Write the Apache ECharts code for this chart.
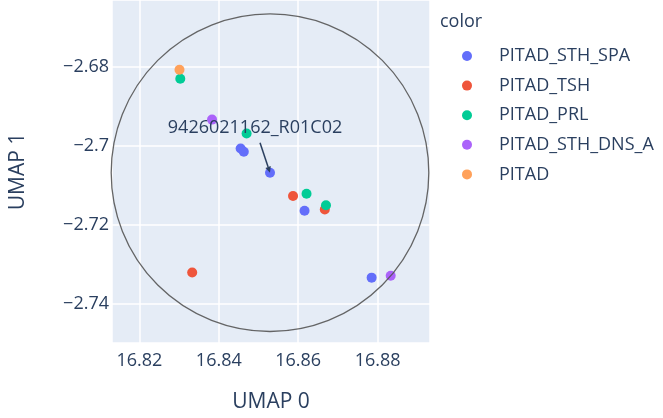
<!DOCTYPE html>
<html>
<head>
<meta charset="utf-8">
<script src="https://cdn.jsdelivr.net/npm/echarts@6/dist/echarts.min.js"></script>
<style>
html,body{margin:0;padding:0;background:#fff;}
#c{width:663px;height:418px;}
</style>
</head>
<body>
<div id="c"></div>
<script>
// ---- data ----
const categories = ['PITAD_STH_SPA', 'PITAD_TSH', 'PITAD_PRL', 'PITAD_STH_DNS_A', 'PITAD'];
const colors = ['#636efa', '#EF553B', '#00cc96', '#ab63fa', '#FFA15A'];
const spaX = [16.8455, 16.8463, 16.8529, 16.8616, 16.8785];
const spaY = [-2.7007, -2.7015, -2.7068, -2.7164, -2.7333];
const tshX = [16.8587, 16.8667, 16.8333];
const tshY = [-2.7127, -2.7161, -2.7320];
const prlX = [16.8303, 16.8470, 16.8621, 16.8670];
const prlY = [-2.6831, -2.6969, -2.7121, -2.7150];
const dnsX = [16.8383, 16.8833];
const dnsY = [-2.6934, -2.7328];
const pitadX = [16.8301];
const pitadY = [-2.6808];
const xTicks = [16.82, 16.84, 16.86, 16.88];
const yTicks = [-2.74, -2.72, -2.70, -2.68];
const annotLabel = '9426021162_R01C02';
const annotPoint = [16.8529, -2.7068];
const circleRadius = 0.04;

const xs = [spaX, tshX, prlX, dnsX, pitadX];
const ys = [spaY, tshY, prlY, dnsY, pitadY];

const FONT = 'Open Sans';
const TXT = '#2a3f5f';

const scatterSeries = categories.map((name, i) => ({
  name: name,
  type: 'scatter',
  symbolSize: 10,
  itemStyle: { color: colors[i], opacity: 1 },
  emphasis: { disabled: true },
  data: xs[i].map((x, k) => [x, ys[i][k]]),
  z: 2
}));

const annotSeries = {
  type: 'custom',
  silent: true,
  z: 10,
  data: [[annotPoint[0], annotPoint[1]]],
  renderItem: function (params, api) {
    const c = api.coord([api.value(0), api.value(1)]);
    const e = api.coord([api.value(0) + circleRadius, api.value(1)]);
    const r = Math.abs(e[0] - c[0]);
    const tx = c[0] - 15, ty = c[1] - 45;
    const sx = tx + 5, sy = ty + 15;
    const dx = c[0] - sx, dy = c[1] - sy;
    const len = Math.sqrt(dx * dx + dy * dy);
    const ux = dx / len, uy = dy / len;
    const hl = 6, hw = 2.8;
    const bx = c[0] - ux * hl, by = c[1] - uy * hl;
    return {
      type: 'group',
      children: [
        { type: 'circle', shape: { cx: c[0], cy: c[1], r: r },
          style: { fill: 'none', stroke: '#555', lineWidth: 1.3, opacity: 0.9 } },
        { type: 'line', shape: { x1: sx, y1: sy, x2: bx, y2: by },
          style: { stroke: TXT, lineWidth: 1.5 } },
        { type: 'polygon', shape: { points: [[c[0], c[1]], [bx - uy * hw, by + ux * hw], [bx + uy * hw, by - ux * hw]] },
          style: { fill: TXT } },
        { type: 'text', x: tx, y: ty,
          style: { text: annotLabel, fontSize: 18, fontFamily: FONT, fill: TXT, align: 'center', verticalAlign: 'middle' } }
      ]
    };
  }
};

function fmt(v) {
  return String(Math.round(v * 1000) / 1000).replace('-', '\u2212');
}

const chart = echarts.init(document.getElementById('c'), null, { renderer: 'canvas' });
chart.setOption({
  animation: false,
  backgroundColor: '#fff',
  textStyle: { fontFamily: FONT },
  title: {
    text: 'color', left: 440, top: 13, padding: 0,
    textStyle: { fontSize: 18, fontWeight: 'normal', color: TXT, fontFamily: FONT }
  },
  legend: {
    orient: 'vertical', left: 462, top: 46, padding: 0,
    itemWidth: 54, itemHeight: 10, itemGap: 9.6, icon: 'circle',
    data: categories,
    textStyle: { fontSize: 18, color: TXT, lineHeight: 20, fontFamily: FONT },
    selectedMode: false
  },
  grid: {
    left: 112, right: 233, top: 0, bottom: 74,
    show: true, backgroundColor: '#E5ECF6', borderWidth: 0
  },
  xAxis: {
    type: 'value', min: 16.8131, max: 16.8932,
    minInterval: 0.02, maxInterval: 0.02,
    name: 'UMAP 0', nameLocation: 'middle', nameGap: 49,
    nameTextStyle: { fontSize: 21, color: TXT, fontFamily: FONT },
    axisLine: { show: false }, axisTick: { show: false },
    axisLabel: { fontSize: 18, color: TXT, margin: 9, showMinLabel: false, showMaxLabel: false,
      formatter: function (v) { return xTicks.some(t => Math.abs(t - v) < 1e-6) ? fmt(v) : ''; } },
    splitLine: { show: true, lineStyle: { color: '#fff', width: 1.5 } }
  },
  yAxis: {
    type: 'value', min: -2.7498, max: -2.6632,
    minInterval: 0.02, maxInterval: 0.02,
    name: 'UMAP 1', nameLocation: 'middle', nameGap: 83,
    nameTextStyle: { fontSize: 21, color: TXT, fontFamily: FONT },
    axisLine: { show: false }, axisTick: { show: false },
    axisLabel: { fontSize: 18, color: TXT, margin: 3, showMinLabel: false, showMaxLabel: false,
      formatter: function (v) { return yTicks.some(t => Math.abs(t - v) < 1e-6) ? fmt(v) : ''; } },
    splitLine: { show: true, lineStyle: { color: '#fff', width: 1.5 } }
  },
  series: scatterSeries.concat([annotSeries])
});
</script>
</body>
</html>
